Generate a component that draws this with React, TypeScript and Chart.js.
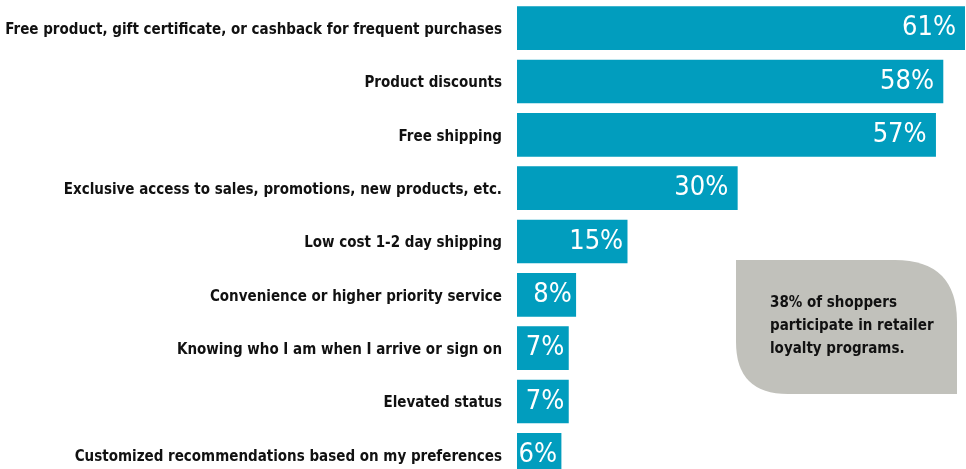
import React, { useEffect, useRef } from "react";
import { Chart, registerables } from "chart.js";

Chart.register(...registerables);

const categories = [
  "Free product, gift certificate, or cashback for frequent purchases",
  "Product discounts",
  "Free shipping",
  "Exclusive access to sales, promotions, new products, etc.",
  "Low cost 1-2 day shipping",
  "Convenience or higher priority service",
  "Knowing who I am when I arrive or sign on",
  "Elevated status",
  "Customized recommendations based on my preferences",
];
const values = [61, 58, 57, 30, 15, 8, 7, 7, 6];
const valueLabels = ["61%", "58%", "57%", "30%", "15%", "8%", "7%", "7%", "6%"];
const noteLines = ["38% of shoppers", "participate in retailer", "loyalty programs."];

const BAR = "#019dbe";
const LABEL_FONT = '"DejaVu Sans Condensed", "DejaVu Sans", sans-serif';

const valuePlugin = {
  id: "valueLabels",
  afterDatasetsDraw(chart: any) {
    const ctx = chart.ctx;
    const meta = chart.getDatasetMeta(0);
    ctx.save();
    ctx.fillStyle = "#ffffff";
    ctx.font = `27px ${LABEL_FONT}`;
    ctx.textAlign = "right";
    ctx.textBaseline = "middle";
    meta.data.forEach((el: any, i: number) => {
      const w = el.x - el.base;
      const inset = w > 120 ? 9 : 4;
      ctx.fillText(valueLabels[i], el.x - inset, el.y);
    });
    ctx.restore();
  },
};

const notePlugin = {
  id: "noteBox",
  afterDraw(chart: any) {
    const ctx = chart.ctx;
    const area = chart.chartArea;
    const x0 = area.left + 219;
    const x1 = area.right - 8;
    const y0 = 260;
    const y1 = 394;
    const r1 = 62;
    const r2 = 52;
    ctx.save();
    ctx.fillStyle = "#c1c1bb";
    ctx.beginPath();
    ctx.moveTo(x0, y0);
    ctx.lineTo(x1 - r1, y0);
    ctx.quadraticCurveTo(x1, y0, x1, y0 + r1);
    ctx.lineTo(x1, y1);
    ctx.lineTo(x0 + r2, y1);
    ctx.quadraticCurveTo(x0, y1, x0, y1 - r2);
    ctx.closePath();
    ctx.fill();
    ctx.fillStyle = "#111111";
    ctx.font = `bold 15px ${LABEL_FONT}`;
    ctx.textAlign = "left";
    ctx.textBaseline = "alphabetic";
    noteLines.forEach((t, i) => {
      ctx.fillText(t, x0 + 34, 307 + i * 23);
    });
    ctx.restore();
  },
};

export default function App() {
  const ref = useRef<HTMLCanvasElement>(null);
  useEffect(() => {
    document.body.style.margin = "0";
    document.body.style.overflow = "hidden";
    const chart = new Chart(ref.current as HTMLCanvasElement, {
      type: "bar",
      data: {
        labels: categories,
        datasets: [
          {
            data: values,
            backgroundColor: BAR,
            barThickness: 43,
            categoryPercentage: 1,
          },
        ],
      },
      options: {
        indexAxis: "y",
        animation: false,
        responsive: false,
        maintainAspectRatio: false,
        layout: { padding: { top: 0, right: 1, bottom: 0, left: 0 } },
        plugins: { legend: { display: false }, tooltip: { enabled: false } },
        scales: {
          x: { display: false, min: 0, max: 61 },
          y: {
            grid: {
              display: true,
              drawOnChartArea: false,
              drawTicks: true,
              tickLength: 15,
              color: "rgba(0,0,0,0)",
              tickColor: "rgba(0,0,0,0)",
            },
            border: { display: false },
            ticks: {
              padding: 0,
              labelOffset: 2,
              color: "#111111",
              font: { family: LABEL_FONT, size: 15, weight: "bold", lineHeight: 0.2 },
            },
            afterFit(axis: any) {
              axis.width = 517;
            },
          },
        },
      },
      plugins: [valuePlugin, notePlugin],
    });
    return () => chart.destroy();
  }, []);
  return <canvas ref={ref} width={966} height={483} style={{ display: "block" }} />;
}
